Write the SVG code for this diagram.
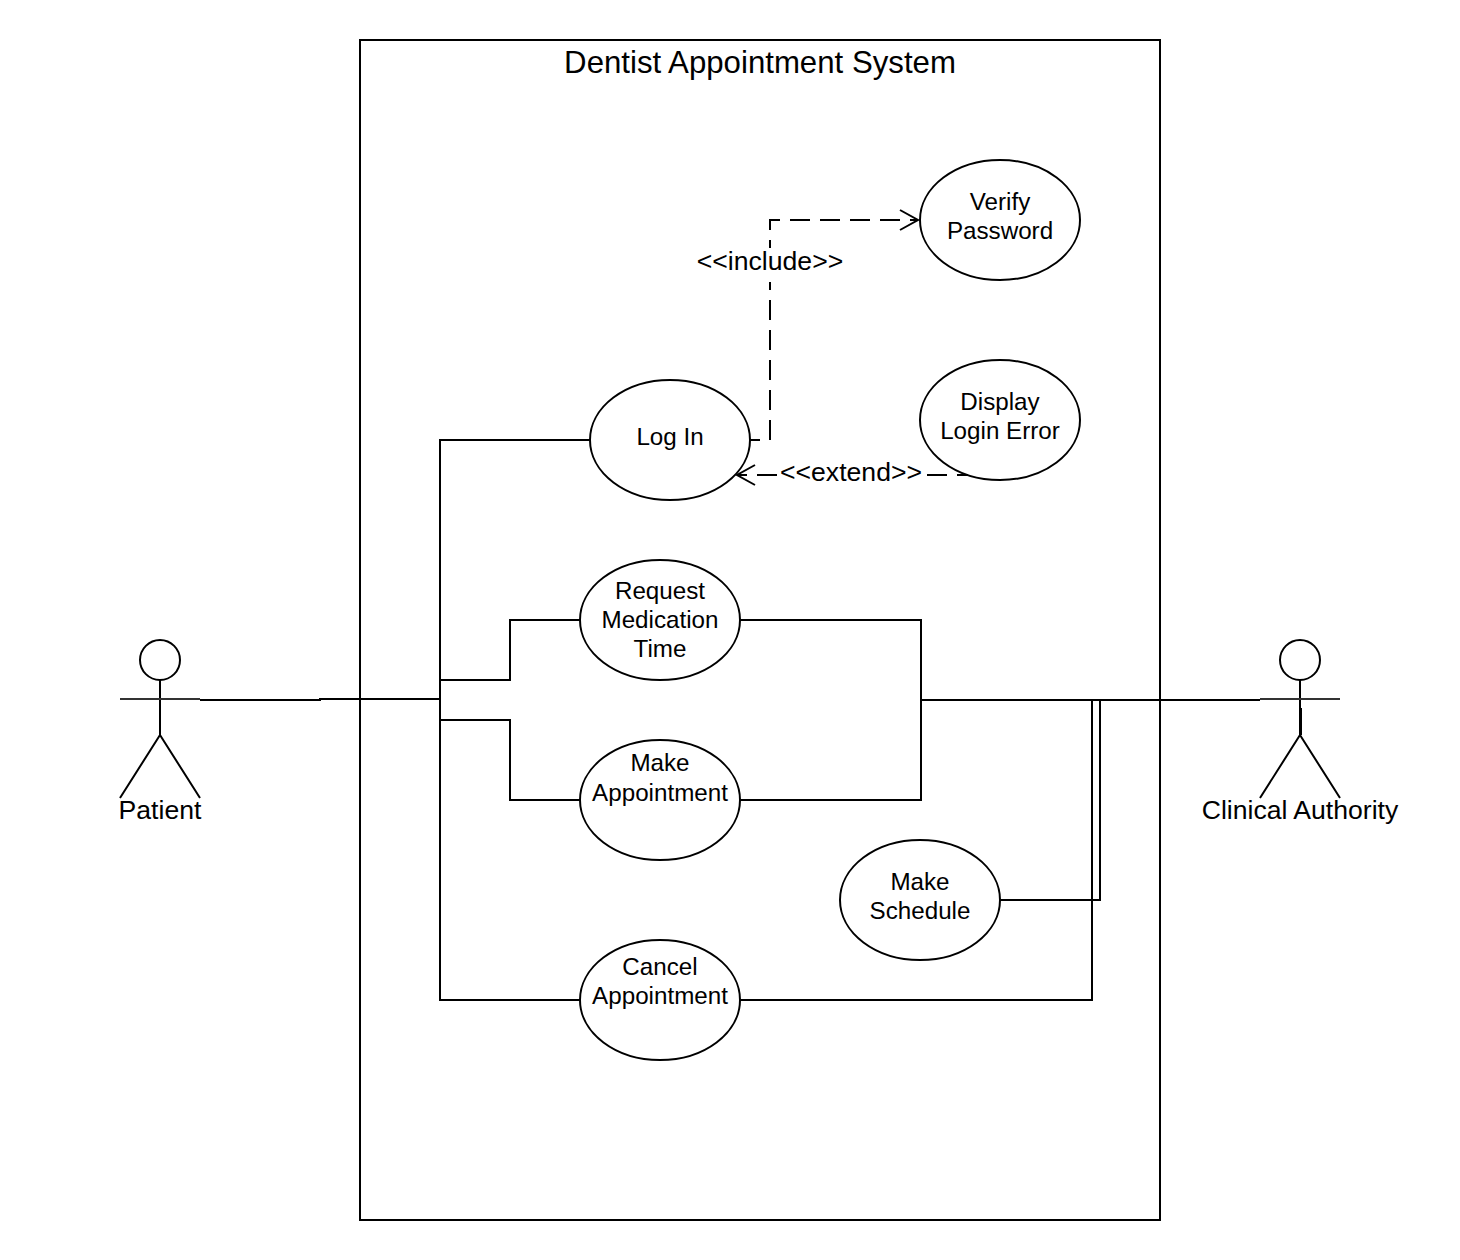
<svg xmlns="http://www.w3.org/2000/svg" width="1460" height="1260" viewBox="0 0 1460 1260">
<style>
.s{fill:none;stroke:#000;stroke-width:2}
.n{fill:#fff;stroke:#000;stroke-width:2}
.d{fill:none;stroke:#000;stroke-width:2;stroke-dasharray:20 10}
.arm{fill:none;stroke:#333;stroke-width:2}
text{font-family:"Liberation Sans",Arial,sans-serif;font-size:24.2px;fill:#000;text-anchor:middle}
.lab{font-size:26.6px}
</style>
<rect width="1460" height="1260" fill="#fff"/>
<g id="system"><rect class="s" x="360" y="40" width="800" height="1180"/><text x="760" y="73" style="font-size:31.2px">Dentist Appointment System</text></g>
<g id="verify"><ellipse class="n" cx="1000" cy="220" rx="80" ry="60"/><text x="1000" y="209.5">Verify</text><text x="1000" y="238.5">Password</text></g>
<g id="error"><ellipse class="n" cx="1000" cy="420" rx="80" ry="60"/><text x="1000" y="409.5">Display</text><text x="1000" y="438.5">Login Error</text></g>
<g id="login"><ellipse class="n" cx="670" cy="440" rx="80" ry="60"/><text x="670" y="444.5">Log In</text></g>
<g id="request"><ellipse class="n" cx="660" cy="620" rx="80" ry="60"/><text x="660" y="598.5">Request</text><text x="660" y="627.5">Medication</text><text x="660" y="656.5">Time</text></g>
<g id="make"><ellipse class="n" cx="660" cy="800" rx="80" ry="60"/><text x="660" y="770.5">Make</text><text x="660" y="800.5">Appointment</text></g>
<g id="schedule"><ellipse class="n" cx="920" cy="900" rx="80" ry="60"/><text x="920" y="889.5">Make</text><text x="920" y="918.5">Schedule</text></g>
<g id="cancel"><ellipse class="n" cx="660" cy="1000" rx="80" ry="60"/><text x="660" y="974.5">Cancel</text><text x="660" y="1003.5">Appointment</text></g>
<g id="patient"><circle class="s" cx="160" cy="660" r="20"/><path class="s" d="M160 680V735M160 735L120 798M160 735L200 798"/><path class="arm" d="M120 699H200"/><text class="lab" x="160" y="819">Patient</text></g>
<g id="authority"><circle class="s" cx="1300" cy="660" r="20"/><path class="s" d="M1300 680V735M1301 708V735M1300 735L1260 798M1300 735L1340 798"/><path class="arm" d="M1260 699H1340"/><text class="lab" x="1300" y="819">Clinical Authority</text></g>
<g id="connectors">
<path class="s" d="M200 700H320V699H440M590 440H440V1000H580M440 680H510V620H580M440 720H510V800H580"/>
<path class="s" d="M740 620H921V800H740M921 700H1260M1000 900H1100V700M740 1000H1092V700"/>
<path class="d" stroke-dashoffset="10" d="M750 440H770V220H918"/>
<path class="s" d="M900 210L918 220L900 230"/>
<path class="d" stroke-dashoffset="9" d="M968 475H927"/>
<path class="d" d="M777 475H737"/>
<path class="s" d="M755 465L737 475L755 485"/>
<rect x="697" y="248" width="146" height="34" fill="#fff"/>
<text class="lab" x="770" y="270">&lt;&lt;include&gt;&gt;</text>
<text class="lab" x="851" y="480.5">&lt;&lt;extend&gt;&gt;</text>
</g>
</svg>
